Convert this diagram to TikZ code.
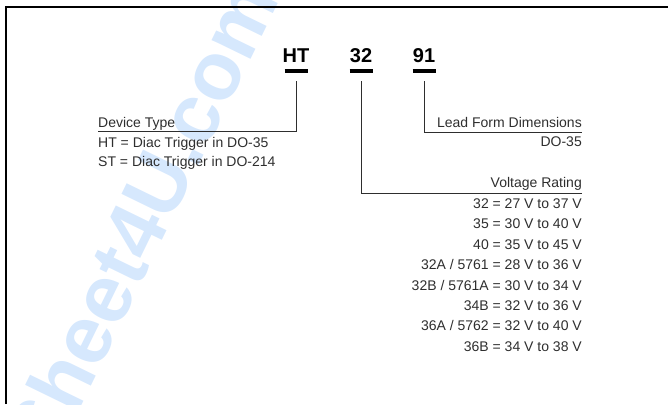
\documentclass[tikz,border=0pt]{standalone}
\usepackage{fontspec}
\setmainfont{Liberation Sans}
\usetikzlibrary{positioning, calc}
\usepackage{xcolor}
\definecolor{inkgray}{HTML}{2E2E2E}
\definecolor{wmblue}{HTML}{D6E8FD}

\begin{document}
\begin{tikzpicture}[x=1pt, y=1pt,
    every node/.style={font=\fontsize{14}{16}\selectfont, text=inkgray, inner sep=0pt},
    code/.style={font=\fontsize{20}{22}\selectfont\bfseries, text=black, anchor=base},
    bar/.style={line width=3.2pt, black},
    lead/.style={draw=inkgray, line width=0.8pt},
]
\useasboundingbox (0,0) rectangle (668,-404);

% Watermark
\node[font=\fontsize{82}{86}\selectfont\bfseries, text=wmblue, rotate=64] (wm) at (101,-299) {DataSheet4U.com};

% Frame (open to the right and below)
\draw[line width=2pt, black] (6,-404) -- (6,-7.5) -- (668,-7.5);

% Part number fields
\node[code] (ht) at (296,-63) {HT};
\node[code] (vv) at (361,-63) {32};
\node[code] (ld) at (424,-63) {91};

\foreach \c in {ht, vv, ld} {
  \draw[bar] ([xshift=-11.5pt, yshift=-8pt]\c.base) -- ([xshift=11.5pt, yshift=-8pt]\c.base);
  \coordinate (\c-tap) at ([yshift=-18pt]\c.base);
}

% Device type
\node[anchor=base west] (dt) at (98,-127) {Device Type};
\node[below=20pt of dt.base west, anchor=base west] (dt1) {HT = Diac Trigger in DO-35};
\node[below=19pt of dt1.base west, anchor=base west] (dt2) {ST = Diac Trigger in DO-214};
\coordinate (dt-ul) at ([yshift=-4.5pt]dt.base west);

% Lead form
\node[anchor=base east] (lf) at (582,-127) {Lead Form Dimensions};
\node[below=19.5pt of lf.base east, anchor=base east] (lf1) {DO-35};
\coordinate (lf-ul) at ([yshift=-5.5pt]lf.base east);

% Voltage rating
\node[anchor=base east] (vr) at (582,-187) {Voltage Rating};
\node[below=21.5pt of vr.base east, anchor=base east] (vr1) {32 = 27 V to 37 V};
\node[below=20.4pt of vr1.base east, anchor=base east] (vr2) {35 = 30 V to 40 V};
\node[below=20.4pt of vr2.base east, anchor=base east] (vr3) {40 = 35 V to 45 V};
\node[below=20.4pt of vr3.base east, anchor=base east] (vr4) {32A / 5761 = 28 V to 36 V};
\node[below=20.4pt of vr4.base east, anchor=base east] (vr5) {32B / 5761A = 30 V to 34 V};
\node[below=20.4pt of vr5.base east, anchor=base east] (vr6) {34B = 32 V to 36 V};
\node[below=20.4pt of vr6.base east, anchor=base east] (vr7) {36A / 5762 = 32 V to 40 V};
\node[below=20.4pt of vr7.base east, anchor=base east] (vr8) {36B = 34 V to 38 V};
\coordinate (vr-ul) at ([yshift=-6pt]vr.base east);

% Leaders
\draw[lead] (ht-tap) |- (dt-ul);
\draw[lead] (ld-tap) |- (lf-ul);
\draw[lead] (vv-tap) |- (vr-ul);

\end{tikzpicture}
\end{document}
